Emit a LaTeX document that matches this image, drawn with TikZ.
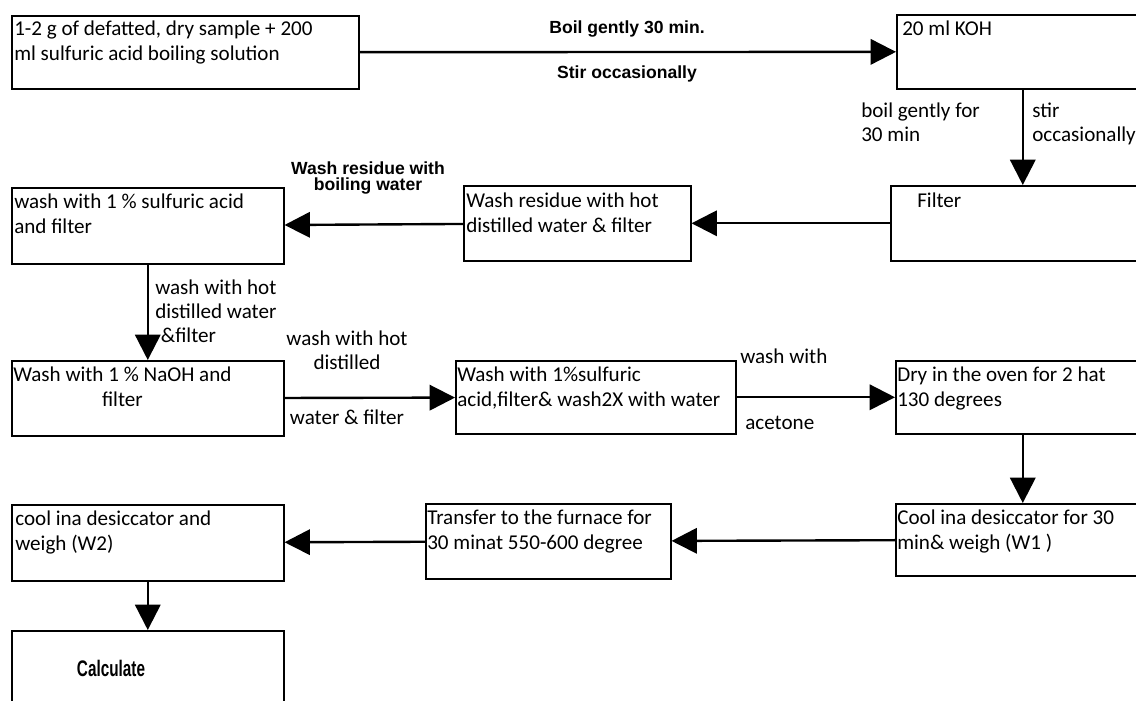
\documentclass[tikz,border=0pt]{standalone}
\usepackage{fontspec}
\setmainfont{Carlito}
\newfontfamily\labelfont{Liberation Sans}
\newfontfamily\narrowlabelfont{Liberation Sans}[FakeStretch=0.68]
\usetikzlibrary{arrows.meta}

\begin{document}
\begin{tikzpicture}[x=0.025cm, y=-0.025cm,
    box/.style 2 args={draw, line width=1.1pt, anchor=north west, inner sep=0pt,
        minimum width=#1*0.025cm, minimum height=#2*0.025cm},
    txt/.style={anchor=north west, align=left, inner sep=0pt,
        font=\fontsize{15}{17.7}\selectfont},
    note/.style={txt, font=\fontsize{15}{17}\selectfont},
    bnote/.style={align=center, inner sep=0pt,
        font=\labelfont\bfseries\fontsize{12.5}{11.5}\selectfont},
    flow/.style={line width=1.7pt, -{Triangle[length=18pt,width=18pt]}}]
    \useasboundingbox (0,0) rectangle (1136,700);
    \clip (0,0) rectangle (1136,700);

    % Boxes
    \node[box={347}{73}] (sample) at (11,15) {};
    \node[txt] (sample-t) at (14,21) {1-2 g of defatted, dry sample + 200\\ml sulfuric acid boiling solution};
    \node[box={252}{74}] (koh) at (896,14) {};
    \node[txt] (koh-t) at (902,21) {20 ml KOH};
    \node[box={264}{75}] (filter) at (890,185) {};
    \node[txt] (filter-t) at (917,193) {Filter};
    \node[box={227}{75}] (residue) at (463,185) {};
    \node[txt] (residue-t) at (466,193) {Wash residue with hot\\distilled water \& filter};
    \node[box={272}{76}] (acid) at (11,187) {};
    \node[txt] (acid-t) at (14,194) {wash with 1 \% sulfuric acid\\and filter};
    \node[box={272}{75}] (naoh) at (11,360) {};
    \node[txt, align=center] (naoh-t) at (13,367) {Wash with 1 \% NaOH and\\filter};
    \node[box={280}{73}] (acidwash) at (455,360) {};
    \node[txt] (acidwash-t) at (457,367) {Wash with 1\%sulfuric\\acid,filter\& wash2X with water};
    \node[box={254}{73}] (dry) at (895,360) {};
    \node[txt] (dry-t) at (897,367) {Dry in the oven for 2 hat\\130 degrees};
    \node[box={254}{72}] (cool) at (895,503) {};
    \node[txt] (cool-t) at (897,510) {Cool ina desiccator for 30\\min\& weigh (W1 )};
    \node[box={245}{75}] (furnace) at (425,503) {};
    \node[txt] (furnace-t) at (427,510) {Transfer to the furnace for\\30 minat 550-600 degree};
    \node[box={272}{76}] (weigh) at (11,504) {};
    \node[txt] (weigh-t) at (15,511) {cool ina desiccator and\\weigh (W2)};
    \node[box={272}{90}] (calc) at (11,630) {};
    \node[font=\narrowlabelfont\bfseries\fontsize{16}{16}\selectfont] (calc-t) at (111,668) {Calculate};

    % Arrows
    \draw[flow] (sample) -- (koh);
    \draw[flow] (koh) -- (filter);
    \draw[flow] (filter) -- (residue);
    \draw[flow] (residue) -- (acid);
    \draw[flow] (acid) -- (naoh);
    \draw[flow] (naoh) -- (acidwash);
    \draw[flow] (acidwash) -- (dry);
    \draw[flow] (dry) -- (cool);
    \draw[flow] (cool) -- (furnace);
    \draw[flow] (furnace) -- (weigh);
    \draw[flow] (weigh) -- (calc);

    % Arrow labels
    \node[bnote] (boil) at (627,29) {Boil gently 30 min.};
    \node[bnote] (stir) at (627,74) {Stir occasionally};
    \node[bnote] (boilwater) at (368,178) {Wash residue with\\boiling water};
    \node[note] (kohleft) at (861,103) {boil gently for\\30 min};
    \node[note] (kohright) at (1032,103) {stir\\occasionally};
    \node[note] (acidright) at (155,280) {wash with hot\\distilled water\\\hspace{4pt}\&filter};
    \node[note, anchor=north, align=center] (naohtop) at (347,331) {wash with hot\\distilled};
    \node[note, anchor=north] (naohbottom) at (347,410) {water \& filter};
    \node[note] (acetop) at (740,349) {wash with};
    \node[note] (acebottom) at (745,416) {acetone};
\end{tikzpicture}
\end{document}
